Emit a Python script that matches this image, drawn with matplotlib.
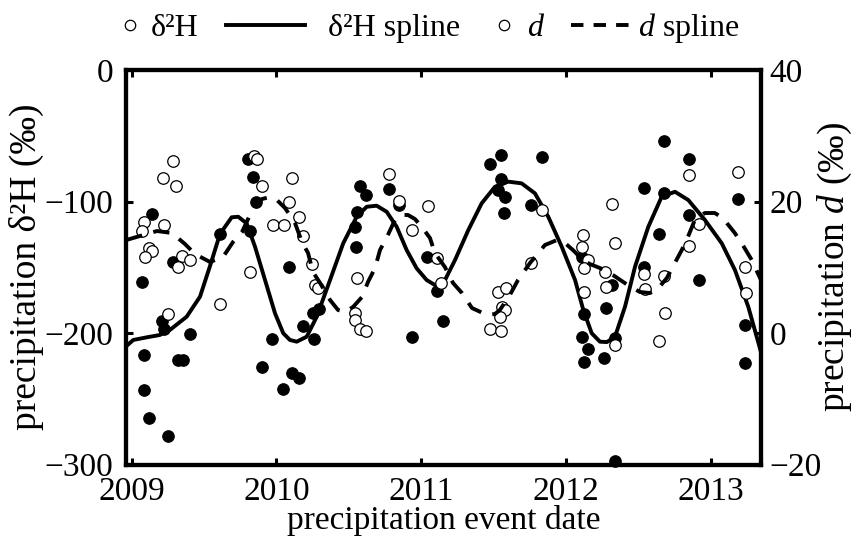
import matplotlib
matplotlib.use("Agg")
import matplotlib.pyplot as plt
from matplotlib.lines import Line2D

plt.rcParams['font.family'] = ['Liberation Serif', 'DejaVu Serif']
plt.rcParams['mathtext.fontset'] = 'custom'
plt.rcParams['mathtext.rm'] = 'Liberation Serif'
plt.rcParams['mathtext.it'] = 'Liberation Serif:italic'
plt.rcParams['axes.unicode_minus'] = True

# ---- data (decimal years) ----
h_date = [2009.069, 2009.138, 2009.289, 2009.306, 2009.213, 2009.222, 2009.404, 2009.083,
          2009.322, 2009.354, 2009.088, 2009.121, 2009.249, 2009.801, 2009.840, 2009.862,
          2009.610, 2009.817, 2009.971, 2009.901, 2010.045, 2010.084, 2010.107, 2010.157,
          2010.181, 2010.249, 2010.297, 2010.262, 2010.580, 2010.618, 2010.558, 2010.542,
          2010.547, 2010.778, 2010.847, 2011.043, 2011.106, 2011.148, 2010.938, 2011.478,
          2011.552, 2011.836, 2011.552, 2011.530, 2011.580, 2011.570, 2011.756, 2012.113,
          2012.126, 2012.108, 2012.148, 2012.125, 2012.265, 2012.276, 2012.317, 2012.338,
          2012.338, 2012.537, 2012.540, 2012.676, 2012.678, 2012.642, 2012.850, 2012.849,
          2012.916, 2013.189, 2013.236, 2013.236]
h_val = [-161.2, -109.7, -146.2, -147.1, -190.9, -197.0, -200.5, -216.7,
         -220.5, -220.2, -243.0, -264.7, -278.3, -67.7, -81.1, -100.2,
         -124.5, -122.6, -204.3, -226.1, -242.8, -150.0, -230.2, -234.2,
         -194.3, -184.8, -182.1, -204.2, -88.2, -95.3, -108.2, -119.4,
         -134.4, -90.3, -102.5, -142.2, -168.3, -190.7, -203.3, -71.6,
         -64.6, -66.2, -83.0, -91.6, -96.4, -108.5, -102.9, -142.0,
         -185.7, -202.8, -211.8, -222.1, -218.8, -180.8, -163.7, -204.0,
         -297.5, -150.0, -89.7, -53.8, -93.3, -124.7, -67.5, -110.0,
         -159.6, -97.9, -193.9, -222.6]

d_date = [2009.287, 2009.214, 2009.305, 2009.085, 2009.070, 2009.224, 2009.121, 2009.138,
          2009.092, 2009.349, 2009.405, 2009.318, 2009.249, 2009.610, 2009.817, 2009.843,
          2009.863, 2009.903, 2009.974, 2010.052, 2010.108, 2010.085, 2010.157, 2010.181,
          2010.247, 2010.264, 2010.289, 2010.558, 2010.544, 2010.540, 2010.580, 2010.618,
          2010.778, 2010.847, 2011.044, 2010.938, 2011.106, 2011.136, 2011.530, 2011.583,
          2011.555, 2011.576, 2011.546, 2011.478, 2011.552, 2011.756, 2011.832, 2012.119,
          2012.111, 2012.149, 2012.124, 2012.127, 2012.269, 2012.276, 2012.319, 2012.338,
          2012.338, 2012.540, 2012.544, 2012.678, 2012.681, 2012.640, 2012.849, 2012.849,
          2012.916, 2013.189, 2013.236, 2013.240]
d_val = [26.16, 23.53, 22.43, 16.88, 15.54, 16.47, 12.96, 12.52,
         11.51, 11.76, 11.10, 10.08, 2.89, 4.46, 9.23, 26.95,
         26.46, 22.43, 16.35, 16.35, 23.50, 19.88, 17.60, 14.71,
         10.45, 7.26, 6.89, 8.32, 3.00, 1.98, 0.56, 0.35,
         24.14, 20.08, 19.32, 15.67, 11.48, 7.56, 6.31, 6.80,
         3.88, 3.50, 2.36, 0.65, 0.27, 10.60, 18.68, 14.91,
         13.08, 11.15, 9.92, 6.16, 9.32, 6.95, 19.62, 13.73,
         -1.86, 8.97, 6.65, 8.67, 3.09, -1.19, 23.99, 13.28,
         16.62, 24.44, 10.08, 6.01]

h_spline_date = [2008.964, 2009.011, 2009.104, 2009.195, 2009.264, 2009.380, 2009.472, 2009.541,
                 2009.610, 2009.691, 2009.736, 2009.794, 2009.852, 2009.921, 2009.990, 2010.047,
                 2010.093, 2010.140, 2010.209, 2010.278, 2010.370, 2010.461, 2010.554, 2010.623,
                 2010.692, 2010.761, 2010.830, 2010.899, 2010.968, 2011.037, 2011.106, 2011.164,
                 2011.233, 2011.325, 2011.417, 2011.509, 2011.601, 2011.693, 2011.785, 2011.877,
                 2011.970, 2012.062, 2012.119, 2012.177, 2012.234, 2012.282, 2012.338, 2012.407,
                 2012.476, 2012.568, 2012.660, 2012.752, 2012.844, 2012.959, 2013.075, 2013.166,
                 2013.258, 2013.346]
h_spline_val = [-209.9, -205.3, -203.3, -201.5, -197.7, -187.6, -172.4, -149.1,
                -124.7, -112.0, -111.6, -116.6, -134.4, -159.7, -185.0, -200.2,
                -205.3, -206.6, -202.8, -187.6, -159.7, -131.8, -111.6, -104.0,
                -103.2, -107.8, -119.2, -136.9, -150.8, -159.7, -164.3, -159.7,
                -144.5, -121.7, -101.4, -88.8, -84.9, -86.2, -93.8, -111.6,
                -134.4, -159.7, -182.5, -200.2, -206.6, -206.9, -202.8, -180.0,
                -149.6, -119.2, -96.4, -92.6, -98.9, -114.1, -131.8, -152.1,
                -180.0, -214.5]

d_spline_date = [2008.964, 2009.057, 2009.175, 2009.278, 2009.368, 2009.437, 2009.541, 2009.631,
                 2009.700, 2009.762, 2009.817, 2009.852, 2009.900, 2009.955, 2010.003, 2010.059,
                 2010.128, 2010.176, 2010.218, 2010.252, 2010.301, 2010.370, 2010.425, 2010.473,
                 2010.529, 2010.591, 2010.632, 2010.681, 2010.715, 2010.763, 2010.818, 2010.867,
                 2010.908, 2010.956, 2011.004, 2011.060, 2011.094, 2011.163, 2011.219, 2011.281,
                 2011.350, 2011.454, 2011.509, 2011.543, 2011.612, 2011.668, 2011.751, 2011.854,
                 2011.937, 2011.992, 2012.047, 2012.116, 2012.164, 2012.233, 2012.323, 2012.426,
                 2012.509, 2012.578, 2012.627, 2012.696, 2012.751, 2012.799, 2012.841, 2012.889,
                 2012.958, 2013.027, 2013.082, 2013.165, 2013.220, 2013.282, 2013.323, 2013.346]
d_spline_val = [14.15, 14.75, 15.51, 15.21, 13.54, 12.02, 10.80, 11.56,
                13.84, 15.36, 17.95, 19.16, 20.38, 20.68, 20.23, 19.01,
                16.73, 13.84, 12.17, 9.28, 7.61, 5.02, 3.50, 3.19,
                3.96, 5.48, 7.76, 9.89, 12.62, 14.60, 17.19, 17.95,
                17.95, 17.34, 16.12, 14.45, 12.17, 10.04, 7.61, 6.08,
                3.80, 2.74, 2.89, 3.50, 5.78, 8.06, 10.65, 13.38,
                14.14, 13.69, 12.62, 11.10, 10.49, 9.89, 8.82, 7.30,
                6.24, 6.08, 6.54, 8.37, 10.65, 12.62, 14.60, 17.19,
                18.25, 18.25, 17.49, 15.21, 13.38, 11.10, 9.13, 8.06]

year_ticks = [2009, 2010, 2011, 2012, 2013]
h_ticks = [0, -100, -200, -300]
d_ticks = [40, 20, 0, -20]

W, H = 857, 543
fig = plt.figure(figsize=(W / 100, H / 100), dpi=100)
ax = fig.add_axes([126 / W, 1 - 464.5 / H, (761 - 126) / W, (464.5 - 70) / H])
ax2 = ax.twinx()

FS = 24
LFS = 23
YFS = 27
ms = 8.3

ax.plot(h_date, h_val, 'o', ms=ms, mfc='black', mec='black', mew=0.8, zorder=3, clip_on=False)
ax.plot(h_spline_date, h_spline_val, '-', color='black', lw=2.8, zorder=4)
ax2.plot(d_date, d_val, 'o', ms=ms, mfc='white', mec='black', mew=0.9, zorder=3)
ax2.plot(d_spline_date, d_spline_val, '--', color='black', lw=2.8, dashes=(4.2, 3.0), zorder=4)

ax.set_xlim(2008.961, 2013.346)
ax.set_ylim(-300, 0)
ax2.set_ylim(-20, 40)

ax.set_xticks(year_ticks)
ax.set_xticklabels([str(y) for y in year_ticks])
ax.set_yticks(h_ticks)
ax2.set_yticks(d_ticks)

for a in (ax, ax2):
    for s in a.spines.values():
        s.set_linewidth(3.0)
ax.tick_params(axis='both', direction='in', length=5, width=2.2, labelsize=FS, top=True)
ax.tick_params(axis='y', pad=9)
ax.tick_params(axis='x', pad=9)
ax2.tick_params(axis='y', direction='in', length=5, width=2.2, labelsize=FS, pad=6)

ax.set_xlabel('precipitation event date', fontsize=FS)
ax.set_ylabel('precipitation δ²H (‰)', fontsize=YFS)
ax2.set_ylabel('precipitation $d$ (‰)', fontsize=YFS)
ax.xaxis.set_label_coords(0.5, (464.5 - 521) / 394.5)
ax.xaxis.label.set_va('center')
ax.yaxis.set_label_coords((26 - 126) / 635, 0.5)
ax.yaxis.label.set_va('center')
ax2.yaxis.set_label_coords((835 - 126) / 635, 0.5)
ax2.yaxis.label.set_va('center')

# ---- legend row on top ----
yc = 1 - 25 / H
yb = 1 - 36 / H
def fx(p):
    return p / W
fig.add_artist(Line2D([fx(130)], [yc], marker='o', ms=7.5, mfc='white', mec='black', mew=0.9,
                      transform=fig.transFigure))
fig.text(fx(151), yb, 'δ²H', fontsize=LFS, va='baseline', ha='left')
fig.add_artist(Line2D([fx(226), fx(305)], [yc, yc], color='black', lw=2.8,
                      transform=fig.transFigure))
fig.text(fx(328), yb, 'δ²H spline', fontsize=LFS, va='baseline', ha='left')
fig.add_artist(Line2D([fx(504)], [yc], marker='o', ms=7.5, mfc='white', mec='black', mew=0.9,
                      transform=fig.transFigure))
fig.text(fx(527), yb, '$d$', fontsize=LFS, va='baseline', ha='left')
fig.add_artist(Line2D([fx(571), fx(636)], [yc, yc], color='black', lw=2.8, dashes=(3.2, 2.6),
                      transform=fig.transFigure))
fig.text(fx(638), yb, '$d$ spline', fontsize=LFS, va='baseline', ha='left')

fig.savefig('out.png', dpi=100)
